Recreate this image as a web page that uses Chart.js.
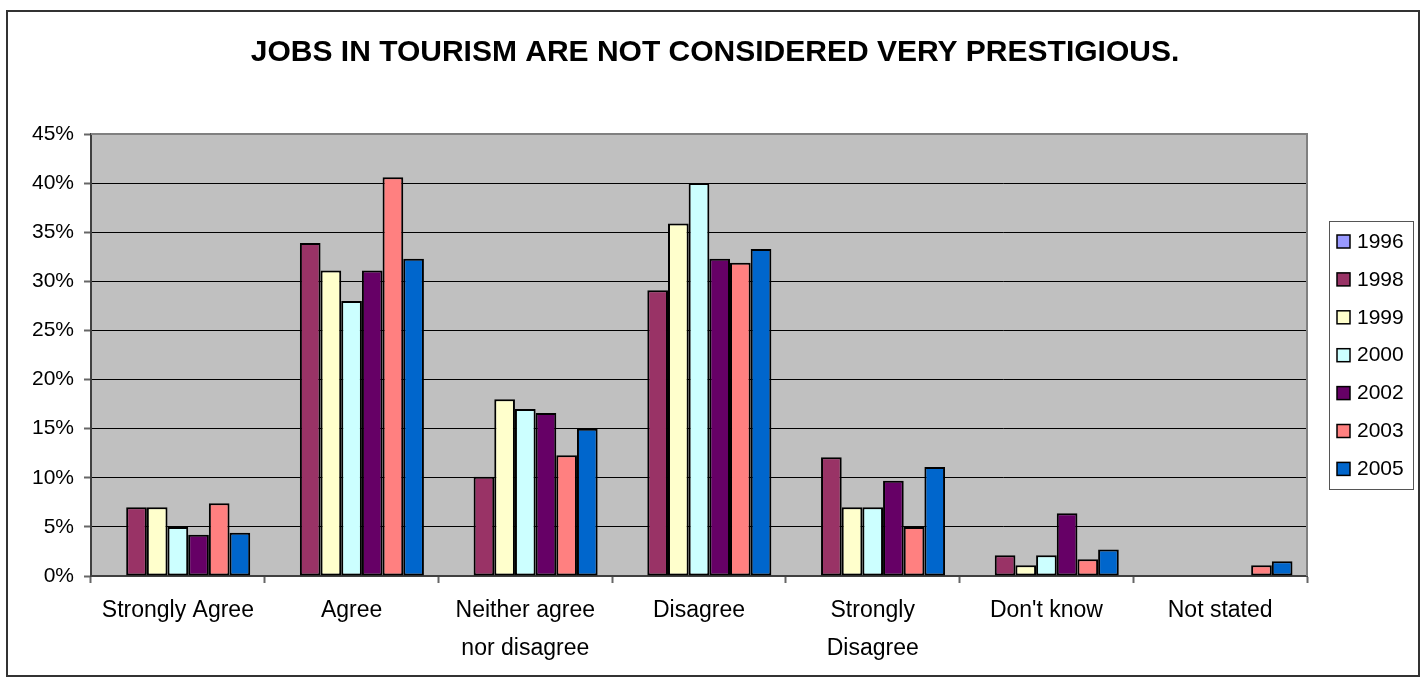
<!DOCTYPE html>
<html lang="en">
<head>
<meta charset="UTF-8">
<title>Jobs in tourism</title>
<script src="https://cdn.jsdelivr.net/npm/chart.js"></script>
<style>
  * { margin: 0; padding: 0; }
  body { background: #fff; }
  #chartBox { width: 1424px; height: 682px; }
</style>
</head>
<body>
<div id="chartBox">
  <canvas id="myChart" width="1424" height="682"></canvas>
</div>
<script>
// answers and survey years
const categories = [
  'Strongly Agree',
  'Agree',
  ['Neither agree', 'nor disagree'],
  'Disagree',
  ['Strongly', 'Disagree'],
  "Don't know",
  'Not stated'
];
const years = ['1996', '1998', '1999', '2000', '2002', '2003', '2005'];
const colors = ['#9999ff', '#993366', '#ffffcc', '#ccffff', '#660066', '#ff8080', '#0066cc'];

// percent of respondents per answer
const v1996 = [null, null, null, null, null, null, null];
const v1998 = [7, 33.9, 10.1, 29.1, 12.1, 2.1, null];
const v1999 = [7, 31.1, 18, 35.9, 7, 1.1, null];
const v2000 = [5, 28, 17, 40, 7, 2.1, null];
const v2002 = [4.2, 31.1, 16.6, 32.3, 9.7, 6.4, null];
const v2003 = [7.4, 40.6, 12.3, 31.9, 5, 1.7, 1.1];
const v2005 = [4.4, 32.3, 15, 33.3, 11.1, 2.7, 1.5];
const series = [v1996, v1998, v1999, v2000, v2002, v2003, v2005];

const TITLE = 'JOBS IN TOURISM ARE NOT CONSIDERED VERY PRESTIGIOUS.';
const FONT = '"Liberation Sans", Arial, sans-serif';

// grey plot background, frames, title and the boxed legend on the right
const frame = {
  id: 'frame',
  beforeDraw(chart) {
    const { ctx, chartArea: a } = chart;
    ctx.save();
    ctx.fillStyle = '#fff';
    ctx.fillRect(0, 0, chart.width, chart.height);
    ctx.fillStyle = '#c0c0c0';
    ctx.fillRect(a.left, a.top, a.right - a.left, a.bottom - a.top);
    ctx.restore();
  },
  afterDraw(chart) {
    const { ctx, chartArea: a } = chart;
    ctx.save();
    // plot border top / right
    ctx.strokeStyle = '#808080';
    ctx.lineWidth = 2;
    ctx.beginPath();
    ctx.moveTo(a.left, a.top);
    ctx.lineTo(a.right, a.top);
    ctx.lineTo(a.right, a.bottom);
    ctx.stroke();

    // outer border
    ctx.strokeStyle = '#333';
    ctx.lineWidth = 2;
    ctx.strokeRect(7, 11, 1412, 665);

    // title, centred on the whole chart
    ctx.fillStyle = '#000';
    ctx.font = 'bold 30px ' + FONT;
    ctx.textAlign = 'center';
    ctx.textBaseline = 'middle';
    ctx.fillText(TITLE, 715, 53);

    // legend
    const lx = 1329, ly = 221, lw = 84, lh = 268;
    ctx.fillStyle = '#fff';
    ctx.fillRect(lx, ly, lw, lh);
    ctx.strokeStyle = '#555';
    ctx.lineWidth = 1;
    ctx.strokeRect(lx + 0.5, ly + 0.5, lw, lh);
    ctx.font = '21px ' + FONT;
    ctx.textBaseline = 'middle';
    ctx.textAlign = 'left';
    chart.data.datasets.forEach((ds, i) => {
      const cy = 241 + i * 37.9;
      ctx.fillStyle = ds.backgroundColor;
      ctx.fillRect(1337, cy - 6, 13, 13);
      ctx.strokeStyle = '#000';
      ctx.lineWidth = 1.5;
      ctx.strokeRect(1337, cy - 6, 13, 13);
      ctx.fillStyle = '#000';
      ctx.fillText(ds.label, 1357, cy + 1);
    });
    ctx.restore();
  }
};

const config = {
  type: 'bar',
  data: {
    labels: categories,
    datasets: years.map((y, i) => ({
      label: y,
      data: series[i],
      backgroundColor: colors[i],
      borderColor: '#000',
      borderWidth: 2,
      borderSkipped: false,
      categoryPercentage: 0.833,
      barPercentage: 1.0
    }))
  },
  options: {
    responsive: false,
    animation: false,
    layout: { padding: { left: 0, right: 117, top: 134, bottom: 0 } },
    plugins: {
      legend: { display: false },
      tooltip: { enabled: false },
      title: { display: false }
    },
    scales: {
      x: {
        grid: {
          offset: true,
          drawOnChartArea: false,
          drawTicks: true,
          tickLength: 7,
          tickColor: '#666',
          tickWidth: 2
        },
        border: { color: '#404040', width: 2 },
        ticks: {
          color: '#000',
          padding: 9,
          maxRotation: 0,
          autoSkip: false,
          font: { family: FONT, size: 23, lineHeight: 1.65 }
        },
        afterFit(scale) { scale.height = 106; }
      },
      y: {
        min: 0,
        max: 45,
        grid: {
          color: (c) => (c.tick && c.tick.value === 45 ? '#808080' : '#000'),
          lineWidth: 1,
          tickLength: 7,
          tickColor: '#666',
          tickWidth: 2
        },
        border: { color: '#404040', width: 2 },
        ticks: {
          stepSize: 5,
          color: '#000',
          padding: 10,
          font: { family: FONT, size: 21 },
          callback: (v) => v + '%'
        },
        afterFit(scale) { scale.width = 91; }
      }
    }
  },
  plugins: [frame]
};

const myChart = new Chart(document.getElementById('myChart'), config);
</script>
</body>
</html>
